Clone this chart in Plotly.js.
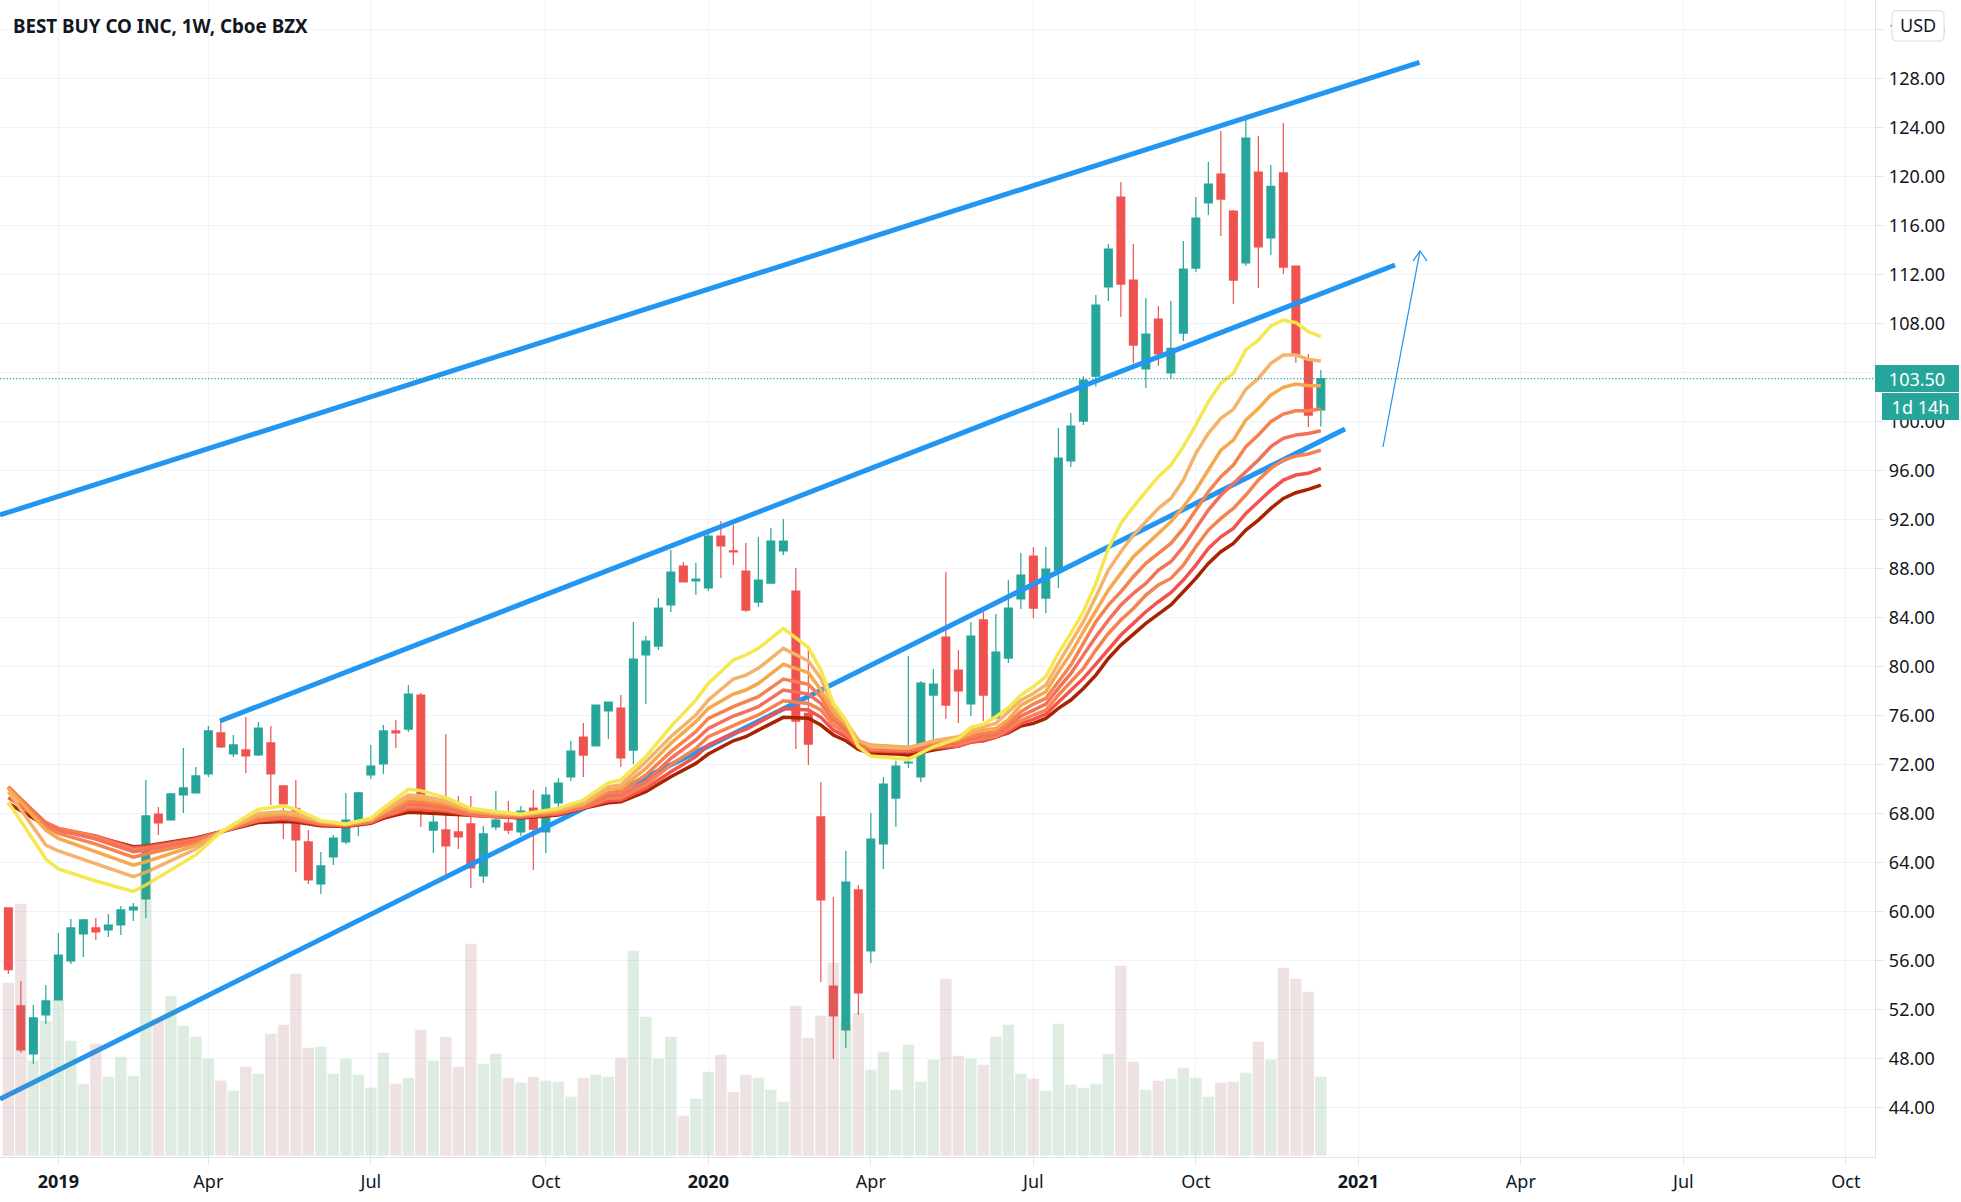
<!DOCTYPE html>
<html><head><meta charset="utf-8">
<script src="https://cdn.plot.ly/plotly-3.0.1.min.js"></script>
<style>html,body{margin:0;padding:0;background:#fff}#chart{width:1961px;height:1202px}</style>
</head><body><div id="chart"></div>
<script>
const titleText = "BEST BUY CO INC, 1W, Cboe BZX";
const yTicks = [44,48,52,56,60,64,68,72,76,80,84,88,92,96,100,104,108,112,116,120,124,128,132];
const xTickWeeks = [4,16,29,43,56,69,82,95,108,121,134,147];
const xTickLabels = ["<b>2019</b>","Apr","Jul","Oct","<b>2020</b>","Apr","Jul","Oct","<b>2021</b>","Apr","Jul","Oct"];
const opens = [60.29,52.29,48.37,51.56,52.78,55.96,58.17,58.66,58.49,58.9,
60.13,61.03,67.96,67.47,69.51,69.68,71.23,74.58,72.86,73.19,
72.78,73.76,70.25,68.43,65.68,62.25,64.45,65.68,67.47,71.15,
72.05,74.74,74.89,77.67,66.65,66.66,66.5,67.15,62.9,66.9,
67.22,66.49,68.45,66.49,68.86,70.98,74.24,73.51,76.37,76.61,
73.18,80.94,81.67,85.02,88.2,86.98,86.41,90.65,89.45,87.79,
85.26,86.81,89.43,86.16,76.17,67.72,53.92,50.33,61.76,56.78,
65.51,69.26,72.14,70.98,77.67,82.4,79.71,76.94,83.8,75.8,
80.69,85.51,89.02,85.59,87.87,96.78,100.04,103.7,110.98,118.33,
111.55,104.29,108.37,103.96,107.22,112.53,117.84,120.2,117.18,112.94,
120.37,114.98,120.29,112.69,105.07,100.94];
const highs = [60.29,54.33,52.37,54.0,58.25,59.39,59.39,59.47,59.8,60.45,
60.7,70.74,68.53,69.68,73.35,71.8,75.15,75.64,74.41,75.88,
75.47,75.15,70.33,70.74,66.66,64.86,66.25,69.68,69.76,73.6,
75.23,75.64,78.49,77.83,68.0,74.5,69.43,69.43,66.98,69.84,
69.02,68.61,69.92,70.16,70.9,73.92,75.39,76.86,77.1,77.67,
83.63,82.49,85.59,89.51,88.53,88.45,90.9,91.88,91.55,90.08,
90.57,91.3,92.04,88.04,81.35,70.57,61.19,64.94,62.17,68.04,
70.98,72.3,80.86,78.81,79.8,87.71,81.35,83.63,84.45,84.28,
87.06,89.26,89.75,89.75,99.47,100.7,103.7,110.33,114.49,119.55,
114.49,110.08,109.43,109.84,114.74,118.33,121.18,123.71,117.27,124.94,
123.31,120.94,124.37,112.69,105.51,104.2];
const lows = [54.9,48.48,47.58,50.82,52.78,55.72,56.29,57.68,57.92,58.09,
59.23,59.47,66.25,67.47,68.05,69.68,70.98,73.35,72.62,71.31,
72.7,68.7,65.92,63.23,62.25,61.43,63.8,65.51,66.17,70.82,
71.23,73.35,74.65,66.89,64.77,62.98,65.1,61.92,62.33,66.66,
66.32,66.16,63.39,64.77,68.42,70.65,70.98,73.51,74.08,71.79,
72.04,76.94,81.35,84.45,86.9,85.83,86.16,87.22,88.28,84.45,
84.86,86.81,89.1,73.26,71.96,54.25,47.96,48.86,51.55,55.8,
63.47,66.9,71.71,70.57,74.0,75.71,75.39,75.96,75.55,75.7,
80.28,84.69,83.95,84.36,86.4,96.29,99.71,102.84,109.84,108.53,
104.75,102.74,104.53,103.47,106.57,112.2,116.86,115.14,109.59,112.69,
110.9,113.59,112.04,104.78,99.55,99.6];
const closes = [55.26,48.7,51.31,52.7,56.45,58.66,59.31,58.33,58.9,60.13,
60.37,67.8,67.23,69.6,70.09,71.07,74.74,73.43,73.6,72.7,
74.98,71.23,68.78,65.84,62.58,63.72,66.0,67.47,69.68,71.88,
74.74,74.58,77.75,69.5,67.3,65.35,66.09,63.56,66.33,67.47,
66.65,68.2,66.73,69.51,70.49,73.1,72.77,76.86,77.1,72.53,
80.61,82.08,84.77,87.71,86.9,87.14,90.65,89.84,89.35,84.61,
87.06,90.24,90.24,75.55,73.67,60.94,51.47,62.41,53.35,65.92,
70.41,71.88,72.2,78.65,78.57,76.85,78.0,82.49,77.67,81.18,
84.77,87.46,84.77,87.95,97.02,99.63,103.39,109.51,114.08,111.22,
106.24,107.14,105.51,105.97,112.45,116.61,119.39,118.16,111.55,123.14,
114.25,119.2,112.61,105.51,100.53,103.5];
const volumes = [17.3,25.2,9.5,13.5,15.6,11.5,7.2,11.2,7.9,9.9,
8.0,28.9,13.7,16.0,13.0,11.9,9.7,7.5,6.5,8.9,
8.2,12.2,13.1,18.2,10.8,10.9,8.2,9.7,8.1,6.8,
10.3,7.2,7.8,12.6,9.5,11.9,8.9,21.2,9.2,10.2,
7.8,7.3,7.9,7.5,7.4,5.9,7.8,8.1,7.9,9.8,
20.5,13.9,9.7,11.9,4.0,5.7,8.4,10.1,6.4,8.1,
7.8,6.6,5.4,15.0,11.8,14.0,19.3,13.3,14.3,8.6,
10.4,6.6,11.1,7.4,9.6,17.7,10.0,9.7,9.1,11.9,
13.1,8.2,7.7,6.5,13.2,7.1,6.8,7.2,10.2,19.0,
9.4,6.6,7.5,7.7,8.8,7.8,5.9,7.3,7.4,8.3,
11.4,9.6,18.8,17.7,16.4,7.9];

const ribbonWeeks = [0,3,4,7,10,11,15,17,20,22,23,25,27,29,30,31,32,33,35,37,39,41,44,46,48,49,51,53,55,56,58,59,60,62,64,65,66,67,68,69,71,72,74,76,77,78,79,80,81,82,83,84,85,86,87,88,89,90,91,92,93,94,95,96,97,98,99,100,101,102,103,104,105];
const ribbon1 = [68.93,64.28,63.47,62.49,61.64,62.16,64.62,66.5,68.34,68.62,68.34,67.42,67.15,67.61,68.43,69.24,69.98,69.87,69.3,68.43,68.15,67.95,68.42,69.1,70.5,70.73,72.64,75.09,77.26,78.62,80.53,80.94,81.48,83.11,81.56,79.71,76.99,75.63,73.45,72.69,72.5,72.42,73.45,74.13,75.03,75.3,75.9,76.64,77.67,78.35,79.17,81.07,82.7,84.47,86.78,89.64,91.68,93.04,94.27,95.5,96.45,97.95,99.72,101.62,103.12,103.93,105.84,106.65,107.8,108.29,108.07,107.33,106.93];
const ribbon2 = [69.78,65.42,64.94,63.87,62.84,63.19,65.1,66.5,68.0,68.15,68.02,67.35,67.13,67.55,68.25,68.85,69.5,69.45,69.05,68.3,68.05,67.92,68.3,68.85,70.19,70.33,72.23,74.27,76.04,77.26,78.98,79.3,79.85,81.48,80.45,79.03,76.72,75.5,74.0,73.45,73.32,73.32,73.94,74.27,74.81,75.09,75.36,76.3,77.26,77.8,78.49,80.25,81.89,83.66,85.7,87.87,89.37,90.73,91.82,92.91,93.72,95.22,97.4,99.03,100.26,100.99,102.63,103.52,104.75,105.43,105.43,105.07,104.94];
const ribbon3 = [70.05,66.65,65.97,64.9,63.79,64.06,65.4,66.5,67.8,68.0,67.85,67.3,67.1,67.48,68.08,68.6,69.24,69.2,68.85,68.2,67.98,67.88,68.22,68.75,69.97,70.05,71.68,73.73,75.5,76.58,77.75,78.08,78.62,80.18,79.5,78.08,76.31,75.3,73.94,73.59,73.45,73.4,73.86,74.13,74.54,74.81,74.95,75.68,76.85,77.4,77.94,79.57,81.07,82.84,84.61,86.24,87.6,88.96,89.91,90.87,91.82,93.04,94.41,96.04,97.67,98.49,100.12,101.07,102.17,102.79,103.06,102.93,102.93];
const ribbon4 = [70.19,66.92,66.38,65.5,64.44,64.69,65.6,66.5,67.65,67.9,67.75,67.25,67.07,67.42,67.98,68.42,68.97,68.95,68.65,68.1,67.9,67.84,68.15,68.65,69.7,69.78,71.14,73.05,74.68,75.77,76.72,77.13,77.54,78.98,78.54,77.54,75.9,75.09,73.86,73.51,73.32,73.32,73.73,73.94,74.33,74.54,74.68,75.41,76.31,76.93,77.4,78.76,80.12,81.89,83.66,85.02,86.1,87.33,88.42,89.23,90.05,91.27,92.77,94.27,95.5,96.45,97.95,98.9,99.99,100.61,100.88,100.88,101.02];
const ribbon5 = [70.19,67.19,66.65,65.91,64.88,65.02,65.75,66.5,67.55,67.8,67.65,67.2,67.05,67.38,67.9,68.28,68.78,68.75,68.5,68.0,67.85,67.8,68.1,68.58,69.43,69.51,70.6,72.5,74.0,74.95,75.96,76.31,76.72,78.08,77.75,76.99,75.63,74.81,73.73,73.4,73.24,73.24,73.59,73.78,74.13,74.33,74.49,75.14,75.95,76.44,76.93,78.21,79.44,80.93,82.43,83.79,85.02,85.97,86.78,87.87,88.55,89.78,91.27,92.77,93.98,94.95,95.9,96.86,97.95,98.63,98.9,99.03,99.25];
const ribbon6 = [70.13,67.25,66.78,66.1,65.07,65.15,65.85,66.5,67.45,67.72,67.58,67.15,67.02,67.32,67.82,68.15,68.56,68.53,68.35,67.93,67.78,67.75,68.05,68.5,69.24,69.29,70.32,71.96,73.32,74.27,75.22,75.63,76.04,77.21,76.99,76.45,75.22,74.54,73.59,73.24,73.18,73.18,73.45,73.64,73.94,74.11,74.32,74.87,75.57,76.04,76.44,77.67,78.76,79.85,81.34,82.7,83.79,84.74,85.83,86.65,87.19,88.28,89.78,91.14,92.09,92.91,94.0,95.22,96.18,96.86,97.18,97.35,97.67];
const ribbon7 = [69.3,67.25,66.78,66.16,65.2,65.29,65.95,66.5,67.38,67.55,67.45,67.08,66.98,67.26,67.72,68.02,68.35,68.32,68.2,67.86,67.73,67.7,67.95,68.45,69.05,69.1,70.05,71.41,72.64,73.59,74.54,74.87,75.41,76.58,76.45,75.85,74.81,74.27,73.45,73.13,73.05,73.05,73.32,73.51,73.81,73.94,74.21,74.68,75.35,75.68,76.12,77.12,78.08,79.03,80.2,81.34,82.57,83.52,84.47,85.29,86.02,87.06,88.28,89.64,90.59,91.27,92.5,93.45,94.4,95.22,95.63,95.77,96.18];
const ribbon8 = [68.83,67.0,66.6,66.1,65.29,65.34,66.0,66.5,67.26,67.34,67.31,67.0,66.93,67.2,67.61,67.88,68.1,68.07,67.96,67.8,67.69,67.64,67.88,68.42,68.88,68.96,69.78,71.0,72.09,72.86,73.94,74.27,74.81,75.85,75.77,75.22,74.41,73.94,73.24,72.91,72.86,72.77,73.18,73.51,73.86,73.94,74.27,74.59,75.14,75.36,75.76,76.58,77.26,78.21,79.3,80.66,81.75,82.65,83.52,84.28,85.02,86.1,87.19,88.42,89.37,90.05,91.14,91.95,92.91,93.72,94.19,94.46,94.81];
const ribbonColors = ["#f5e84e","#f4b26c","#f6a84c","#f6824e","#f2705c","#f6824e","#f4524f","#a82400"];

const upperChannelX = [-0.667,112.89], upperChannelY = [92.37,129.31];
const middleChannelX = [16.93,110.93], middleChannelY = [75.55,112.78];
const lowerChannelX = [-0.667,106.93], lowerChannelY = [44.69,99.39];
const arrowX = [109.97,112.93,112.37,112.93,113.49], arrowY = [97.92,113.92,113.1,113.92,113.1];
const lastPrice = 103.5;

const UP="#26a69a", DOWN="#ef5350", BLUE="#2196f3", GRID="#f1f3fa", AXIS="#e0e3eb", INK="#131722";
const weeks = opens.map((_,i)=>i);
const PW=1875, PH=1157;
const px=x=>x/PW, py=y=>1-y/PH;

const channel=(x,y)=>({type:"scatter",mode:"lines",x,y,xaxis:"x",yaxis:"y",hoverinfo:"skip",showlegend:false,line:{color:BLUE,width:5}});
const ribbons=[ribbon8,ribbon7,ribbon6,ribbon5,ribbon4,ribbon3,ribbon2,ribbon1].map((r,k)=>({
  type:"scatter",mode:"lines",x:ribbonWeeks,y:r,xaxis:"x",yaxis:"y",hoverinfo:"skip",showlegend:false,
  line:{color:ribbonColors[7-k],width:3.5}}));

const traces=[
 {type:"bar",x:weeks,y:volumes,xaxis:"x",yaxis:"y2",hoverinfo:"skip",showlegend:false,
  marker:{color:opens.map((o,i)=>closes[i]>=o?"rgba(90,160,105,0.2)":"rgba(175,110,115,0.2)"),line:{width:0}}},
 {type:"candlestick",x:weeks,open:opens,high:highs,low:lows,close:closes,xaxis:"x",yaxis:"y",hoverinfo:"skip",showlegend:false,
  whiskerwidth:0,
  increasing:{line:{color:UP,width:1.2},fillcolor:UP},
  decreasing:{line:{color:DOWN,width:1.2},fillcolor:DOWN}},
 channel(upperChannelX,upperChannelY),
 channel(middleChannelX,middleChannelY),
 channel(lowerChannelX,lowerChannelY),
 ...ribbons,
 {type:"scatter",mode:"lines",x:arrowX,y:arrowY,xaxis:"x",yaxis:"y",hoverinfo:"skip",showlegend:false,line:{color:BLUE,width:1.25}}
];

// rounded outline of the currency badge, in plot fractions
const r=5,L=1892,R=1944,T=10.5,B=41;
const badge=`M ${px(L+r)} ${py(T)} L ${px(R-r)} ${py(T)} Q ${px(R)} ${py(T)} ${px(R)} ${py(T+r)} L ${px(R)} ${py(B-r)} Q ${px(R)} ${py(B)} ${px(R-r)} ${py(B)} L ${px(L+r)} ${py(B)} Q ${px(L)} ${py(B)} ${px(L)} ${py(B-r)} L ${px(L)} ${py(T+r)} Q ${px(L)} ${py(T)} ${px(L+r)} ${py(T)} Z`;

const font={family:"'Noto Sans', sans-serif",size:18,color:INK};
const layout={
 width:1961,height:1202,paper_bgcolor:"#fff",plot_bgcolor:"#fff",
 margin:{l:0,r:86,t:0,b:45,pad:0},font,showlegend:false,
 bargap:0.09,boxmode:"overlay",boxgap:0.376,boxgroupgap:0,barmode:"overlay",
 title:{text:titleText,x:13/1961,xref:"container",xanchor:"left",y:1-26/1202,yref:"container",yanchor:"middle",
   font:{family:"'Noto Sans', sans-serif",size:18.8,color:INK,weight:"bold"}},
 xaxis:{range:[-0.667,149.33],tickmode:"array",tickvals:xTickWeeks,ticktext:xTickLabels,
   showgrid:true,gridcolor:GRID,gridwidth:1.2,zeroline:false,
   showline:true,linecolor:AXIS,linewidth:1.25,ticks:"outside",ticklen:7,tickwidth:1.25,tickcolor:AXIS,
   ticklabelstandoff:1,tickfont:font,rangeslider:{visible:false},fixedrange:true},
 yaxis:{range:[39.96,134.41],side:"right",tickmode:"array",tickvals:yTicks,tickformat:".2f",
   showgrid:true,gridcolor:GRID,gridwidth:1.2,zeroline:false,
   showline:true,linecolor:AXIS,linewidth:1.25,ticks:"outside",ticklen:7,tickwidth:1.25,tickcolor:AXIS,
   ticklabelstandoff:2,tickfont:font,fixedrange:true},
 yaxis2:{overlaying:"y",range:[-0.13,115.57],visible:false,fixedrange:true},
 shapes:[
  {type:"line",xref:"paper",x0:0,x1:1,yref:"y",y0:lastPrice,y1:lastPrice,line:{color:UP,width:1.25,dash:"1.25px,2px"},layer:"above"},
  {type:"path",xref:"paper",yref:"paper",path:badge,fillcolor:"#fff",line:{color:AXIS,width:1.25},layer:"above"}
 ],
 annotations:[
  {xref:"paper",yref:"paper",x:px(1918),y:py(25.5),text:"USD",showarrow:false,font:{...font,size:18},xanchor:"center",yanchor:"middle"},
  {xref:"paper",yref:"y",x:1,y:lastPrice,text:lastPrice.toFixed(2),showarrow:false,xanchor:"left",yanchor:"middle",
   bgcolor:UP,width:84,height:27,borderpad:0,borderwidth:0,font:{...font,color:"#fff"}},
  {xref:"paper",yref:"paper",x:px(1882),y:py(406.5),text:"1d 14h",showarrow:false,xanchor:"left",yanchor:"middle",
   bgcolor:UP,width:77,height:27,borderpad:0,borderwidth:0,font:{...font,color:"#fff"}}
 ]
};
Plotly.newPlot("chart",traces,layout,{displayModeBar:false,staticPlot:true});
</script></body></html>
